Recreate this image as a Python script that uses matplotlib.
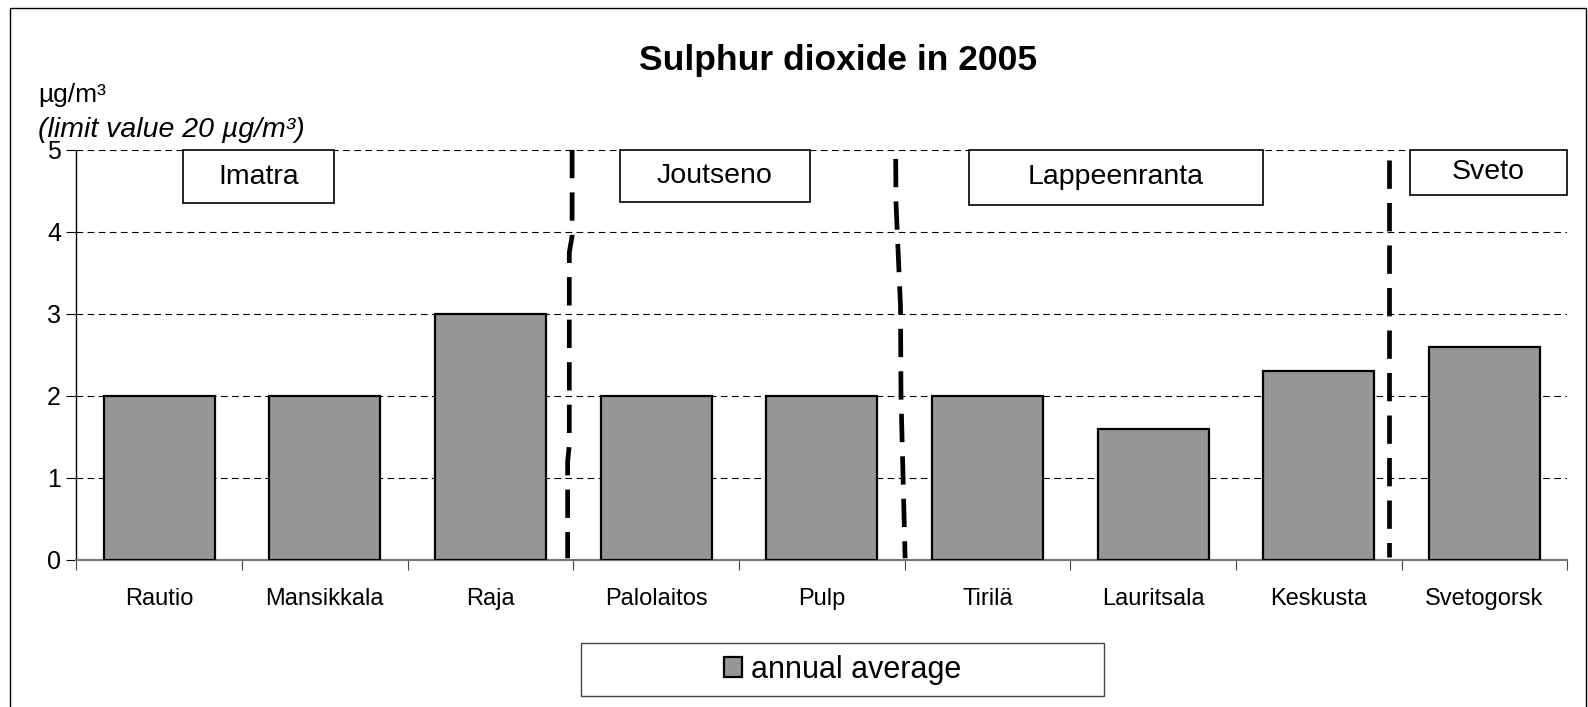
import matplotlib
matplotlib.use("Agg")
import matplotlib.pyplot as plt
from matplotlib.patches import Rectangle

plt.rcParams['font.family'] = ['Liberation Sans', 'DejaVu Sans']

# data
stations = ["Rautio", "Mansikkala", "Raja", "Palolaitos", "Pulp",
            "Tirilä", "Lauritsala", "Keskusta", "Svetogorsk"]
annual_avg = [2.0, 2.0, 3.0, 2.0, 2.0, 2.0, 1.6, 2.3, 2.6]

# town labels: name, box x-range (in category units), box bottom
towns = ["Imatra", "Joutseno", "Lappeenranta", "Sveto"]
town_x = [(0.145, 1.056), (2.78, 3.93), (4.89, 6.66), (7.55, 8.5)]
town_bottom = [4.35, 4.36, 4.33, 4.45]

# hand drawn separator lines between towns
sep1_x = [2.493, 2.493, 2.476, 2.476, 2.466, 2.466]
sep1_y = [5.0, 3.95, 3.75, 1.4, 1.2, 0.02]
sep2_x = [4.446, 4.448, 4.475, 4.478, 4.503]
sep2_y = [4.89, 4.35, 3.1, 2.0, 0.02]
sep3_x = [7.425, 7.425]
sep3_y = [4.88, 0.04]

fig = plt.figure(figsize=(15.88, 7.07), dpi=100)
fig.patches.append(Rectangle((0.0063, -0.01), 0.9924, 0.999, transform=fig.transFigure,
                             fill=False, edgecolor='black', lw=1))

ax = fig.add_axes([0.048, 0.208, 0.939, 0.58])
x = list(range(len(stations)))
ax.bar(x, annual_avg, width=0.67, color='#969696', edgecolor='black', lw=1.6,
       zorder=3, label='annual average')

ax.set_xlim(-0.5, len(stations) - 0.5)
ax.set_ylim(0, 5)
ax.set_yticks([0, 1, 2, 3, 4, 5])
ax.yaxis.grid(True, linestyle=(0, (6, 4)), color='black', lw=0.8, zorder=0)
ax.set_axisbelow(True)

ax.set_xticks([i - 0.5 for i in range(len(stations) + 1)], minor=False)
ax.set_xticklabels([])
ax.set_xticks(x, minor=True)
ax.set_xticklabels(stations, minor=True, fontsize=17)
ax.tick_params(axis='x', which='minor', length=0, pad=20)
ax.tick_params(axis='x', which='major', length=7, direction='out', color='#444444')
ax.tick_params(axis='y', length=7, direction='out', labelsize=18, pad=4)

for s in ['top', 'right']:
    ax.spines[s].set_visible(False)
ax.spines['bottom'].set_color('#777777')
ax.spines['bottom'].set_linewidth(1.5)
ax.spines['left'].set_linewidth(1.0)

for xs, ys in [(sep1_x, sep1_y), (sep2_x, sep2_y), (sep3_x, sep3_y)]:
    ax.plot(xs, ys, color='black', lw=3.4, linestyle=(0, (6, 3)), zorder=4,
            clip_on=False)

for name, (x0, x1), yb in zip(towns, town_x, town_bottom):
    ax.add_patch(Rectangle((x0, yb), x1 - x0, 5.0 - yb, facecolor='white',
                           edgecolor='black', lw=1.2, zorder=5, clip_on=False))
    ax.text((x0 + x1) / 2, (yb + 5.0) / 2, name, ha='center', va='center',
            fontsize=20.5, zorder=6)

fig.text(0.5275, 0.915, "Sulphur dioxide in 2005", ha='center', va='center',
         fontsize=25.5, fontweight='bold')
fig.text(0.024, 0.866, "µg/m³", ha='left', va='center', fontsize=19)
fig.text(0.024, 0.816, "(limit value 20 µg/m³)", ha='left', va='center',
         fontsize=20.5, style='italic')

# legend box
fig.patches.append(Rectangle((0.366, 0.015), 0.3295, 0.075, transform=fig.transFigure,
                             fill=False, edgecolor='#444444', lw=1))
handles, labels = ax.get_legend_handles_labels()
fig.legend(handles, labels, loc='center', bbox_to_anchor=(0.5305, 0.0525),
           frameon=False, fontsize=22, handlelength=0.6, handleheight=0.6,
           handletextpad=0.3)

fig.savefig("out.png", dpi=100)
